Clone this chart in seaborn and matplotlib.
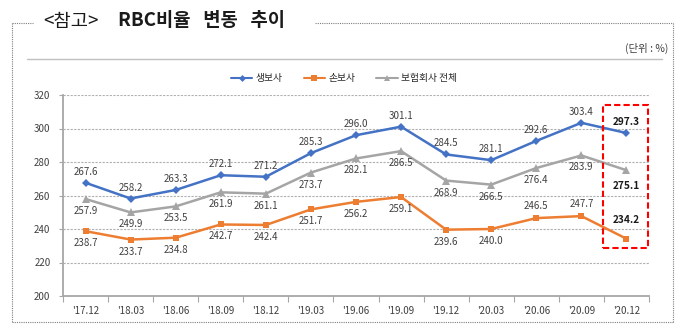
import matplotlib
matplotlib.use("Agg")
import matplotlib.pyplot as plt
import seaborn as sns
import pandas as pd
from matplotlib.lines import Line2D
from matplotlib.patches import Rectangle

periods = ["'17.12", "'18.03", "'18.06", "'18.09", "'18.12", "'19.03", "'19.06",
           "'19.09", "'19.12", "'20.03", "'20.06", "'20.09", "'20.12"]
life = [267.6, 258.2, 263.3, 272.1, 271.2, 285.3, 296.0, 301.1, 284.5, 281.1, 292.6, 303.4, 297.3]
nonlife = [238.7, 233.7, 234.8, 242.7, 242.4, 251.7, 256.2, 259.1, 239.6, 240.0, 246.5, 247.7, 234.2]
total = [257.9, 249.9, 253.5, 261.9, 261.1, 273.7, 282.1, 286.5, 268.9, 266.5, 276.4, 283.9, 275.1]
series_names = ["생보사", "손보사", "보험회사 전체"]
yticks = [200, 220, 240, 260, 280, 300, 320]

sns.set_theme(style="white")
plt.rcParams['font.family'] = ['Noto Sans CJK KR', 'DejaVu Sans']

colors = {"생보사": "#4472C4", "손보사": "#ED7D31", "보험회사 전체": "#A5A5A5"}
markers = {"생보사": "D", "손보사": "s", "보험회사 전체": "^"}
msize = {"생보사": 4.5, "손보사": 5, "보험회사 전체": 6}

df = pd.DataFrame({
    "period": periods * 3,
    "pos": list(range(len(periods))) * 3,
    "value": life + nonlife + total,
    "series": [series_names[0]] * 13 + [series_names[1]] * 13 + [series_names[2]] * 13,
})

W, H = 680, 333
fig = plt.figure(figsize=(W / 100, H / 100), dpi=100)
ax = fig.add_axes([63 / W, 1 - 296 / H, 586 / W, 201 / H])

for name in series_names:
    sub = df[df.series == name]
    sns.lineplot(data=sub, x="pos", y="value", ax=ax, color=colors[name],
                 marker=markers[name], markersize=msize[name], markeredgewidth=0,
                 linewidth=1.8, legend=False)

# data labels
above_nonlife = {10, 11, 12}
for name in series_names:
    sub = df[df.series == name].reset_index(drop=True)
    for i, r in sub.iterrows():
        last = i == len(sub) - 1
        if name == "생보사":
            dy = 11
        elif name == "손보사":
            dy = 12 if i in above_nonlife else -12
            if last:
                dy = 19
        else:
            dy = -12 if not last else -16
        ax.annotate(f"{r.value:.1f}", (r.pos, r.value), xytext=(0, dy * 0.72),
                    textcoords="offset points", ha="center", va="center",
                    fontsize=7 if not last else 7.3,
                    fontweight="bold" if last else "normal",
                    color="#1a1a1a" if last else "#404040")

ax.set_xlim(-0.5, len(periods) - 0.5)
ax.set_ylim(200, 320)
ax.set_yticks(yticks)
ax.set_yticklabels([str(v) for v in yticks])
ax.set_xticks(range(len(periods)))
ax.set_xticklabels(periods)
ax.set_xticks([i - 0.5 for i in range(len(periods) + 1)], minor=True)
ax.tick_params(axis="x", which="major", length=0, pad=7, labelsize=7, labelcolor="#404040")
ax.tick_params(axis="x", which="minor", length=4, width=0.8, color="#A6A6A6", direction="out", bottom=True)
ax.tick_params(axis="y", length=3, width=0.8, color="#A6A6A6", labelsize=7, labelcolor="#404040", pad=6, left=True)
ax.set_xlabel("")
ax.set_ylabel("")
for y in yticks[1:]:
    ax.axhline(y, color="#B0B0B0", lw=0.8, ls=(0, (2, 1.2)), zorder=0)
for s in ["top", "right"]:
    ax.spines[s].set_visible(False)
for s in ["left", "bottom"]:
    ax.spines[s].set_color("#A6A6A6")
    ax.spines[s].set_linewidth(1.3)

# highlight box around last period
last_i = len(periods) - 1
ax.add_patch(Rectangle((last_i - 0.52, 228.7), 1.0, 85.3, fill=False,
                       edgecolor="#FF0000", lw=1.5, ls=(0, (3, 1.5)), clip_on=False, zorder=5))

# legend
handles = [Line2D([0], [0], color=colors[n], marker=markers[n], markersize=msize[n] - 1,
                  markeredgewidth=0, lw=1.5) for n in series_names]
fig.legend(handles, series_names, loc="center", bbox_to_anchor=(344 / W, 1 - 78 / H),
           ncol=3, frameon=False, fontsize=7, handlelength=2.2, columnspacing=2.2,
           handletextpad=0.3)

# frame lines
def fl(x0, y0, x1, y1, **kw):
    fig.add_artist(Line2D([x0 / W, x1 / W], [1 - y0 / H, 1 - y1 / H], transform=fig.transFigure, **kw))

bk = dict(color="#7F7F7F", lw=0.8, ls=(0, (1, 1)))
fl(12, 22.7, 33, 22.7, **bk)
fl(315, 22.7, 673, 22.7, **bk)
fl(12, 22.7, 12, 322, **bk)
fl(12, 322, 673, 322, **bk)
fl(673, 22.7, 673, 322, **bk)
fl(27, 59, 662, 59, color="#BFBFBF", lw=1.0)

fig.text(43 / W, 1 - 21 / H, "<참고>", ha="left", va="center", fontsize=13.5, color="#1a1a1a")
fig.text(118 / W, 1 - 21 / H, "RBC비율   변동   추이", ha="left", va="center", fontsize=13.5,
         fontweight="bold", color="#1a1a1a")
fig.text(668 / W, 1 - 48 / H, "(단위 : %)", ha="right", va="center", fontsize=7.5, color="#404040")

fig.savefig("out.png", dpi=100)
